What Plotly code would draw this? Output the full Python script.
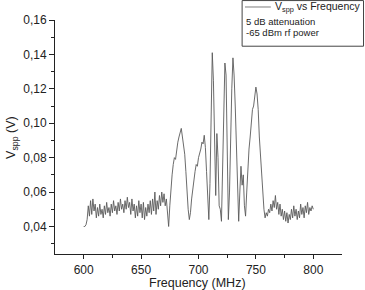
import plotly.graph_objects as go

freq_mhz = list(range(600, 801))

vspp = [
    # 600-609
    0.040, 0.040, 0.041, 0.044, 0.052, 0.046, 0.055, 0.047, 0.056, 0.049,
    # 610-619
    0.053, 0.045, 0.051, 0.046, 0.053, 0.047, 0.050, 0.045, 0.052, 0.047,
    # 620-629
    0.054, 0.048, 0.051, 0.046, 0.053, 0.048, 0.055, 0.049, 0.052, 0.047,
    # 630-639
    0.054, 0.049, 0.056, 0.050, 0.053, 0.048, 0.055, 0.050, 0.057, 0.051,
    # 640-649
    0.054, 0.047, 0.056, 0.049, 0.053, 0.045, 0.052, 0.046, 0.055, 0.048,
    # 650-659
    0.053, 0.045, 0.054, 0.044, 0.051, 0.046, 0.053, 0.048, 0.055, 0.047,
    # 660-669
    0.056, 0.049, 0.060, 0.047, 0.055, 0.050, 0.058, 0.052, 0.060, 0.054,
    # 670-679
    0.059, 0.052, 0.056, 0.047, 0.040, 0.052, 0.063, 0.070, 0.076, 0.080,
    # 680-689
    0.079, 0.086, 0.089, 0.092, 0.094, 0.097, 0.092, 0.088, 0.082, 0.072,
    # 690-699
    0.060, 0.050, 0.044, 0.048, 0.056, 0.062, 0.067, 0.072, 0.076, 0.075,
    # 700-709
    0.080, 0.082, 0.085, 0.089, 0.088, 0.093, 0.086, 0.072, 0.058, 0.044,
    # 710-719
    0.065, 0.100, 0.141, 0.125, 0.090, 0.058, 0.094, 0.080, 0.052, 0.050,
    # 720-729
    0.043, 0.070, 0.110, 0.135, 0.128, 0.090, 0.044, 0.060, 0.100, 0.120,
    # 730-739
    0.138, 0.128, 0.110, 0.082, 0.058, 0.043, 0.060, 0.075, 0.064, 0.070,
    # 740-749
    0.052, 0.046, 0.060, 0.075, 0.085, 0.092, 0.102, 0.108, 0.110, 0.116,
    # 750-759
    0.121, 0.117, 0.108, 0.092, 0.080, 0.070, 0.060, 0.050, 0.045, 0.048,
    # 760-769
    0.046, 0.050, 0.048, 0.053, 0.049, 0.055, 0.051, 0.058, 0.050, 0.054,
    # 770-779
    0.047, 0.053, 0.046, 0.050, 0.044, 0.049, 0.043, 0.048, 0.042, 0.047,
    # 780-789
    0.044, 0.050, 0.045, 0.052, 0.046, 0.050, 0.044, 0.049, 0.045, 0.053,
    # 790-800
    0.047, 0.051, 0.045, 0.052, 0.048, 0.054, 0.047, 0.051, 0.049, 0.052,
    0.050,
]

legend_lines = ["V<sub>spp</sub> vs Frequency", "5 dB attenuation", "-65 dBm rf power"]
x_title = "Frequency (MHz)"
y_title = "V<sub>spp</sub> (V)"

FONT = "Arial, 'Liberation Sans', sans-serif"
AX = "#222222"

fig = go.Figure()
fig.add_trace(go.Scatter(
    x=freq_mhz, y=vspp, mode="lines",
    line=dict(color="#5a5a5a", width=0.9),
    showlegend=False, hoverinfo="skip",
))

common = dict(
    showgrid=False, zeroline=False, showline=True, linecolor=AX, linewidth=1,
    ticks="outside", tickwidth=1, tickcolor=AX,
    tickfont=dict(family=FONT, size=12, color="#222222"),
    mirror=False, automargin=False,
)

fig.update_layout(
    width=365, height=290,
    margin=dict(l=55, r=23, t=20, b=36),
    paper_bgcolor="white", plot_bgcolor="white",
    separators=",.",
    font=dict(family=FONT, color="#222222"),
    xaxis=dict(
        range=[575, 825], tickvals=[600, 650, 700, 750, 800],
        ticklen=4, ticklabelstandoff=1,
        minor=dict(tickvals=[625, 675, 725, 775], ticks="outside", ticklen=3, tickcolor=AX),
        **common,
    ),
    yaxis=dict(
        range=[0.024, 0.16], tickvals=[0.04, 0.06, 0.08, 0.10, 0.12, 0.14, 0.16],
        tickformat=".2f", ticklen=5,
        minor=dict(tickvals=[0.03, 0.05, 0.07, 0.09, 0.11, 0.13, 0.15], ticks="outside",
                   ticklen=3, tickcolor=AX),
        **common,
    ),
)

# axis titles
fig.add_annotation(text=x_title, xref="paper", yref="paper", x=0.498, y=-0.124,
                   xanchor="center", yanchor="middle", showarrow=False,
                   font=dict(family=FONT, size=12.5, color="#222222"))
fig.add_annotation(text=y_title, xref="paper", yref="paper", x=-0.150, y=0.50,
                   xanchor="center", yanchor="middle", showarrow=False, textangle=-90,
                   font=dict(family=FONT, size=12.5, color="#222222"))

# legend box
fig.add_shape(type="rect", xref="paper", yref="paper",
              x0=0.652, x1=1.075, y0=0.888, y1=1.083,
              line=dict(color="#444444", width=1), fillcolor="white", layer="above")
fig.add_shape(type="line", xref="paper", yref="paper",
              x0=0.662, x1=0.752, y0=1.0556, y1=1.0556,
              line=dict(color="#5a5a5a", width=0.8))
ys = [1.0556, 0.9957, 0.948]
xs = [0.761, 0.658, 0.658]
sizes = [10.5, 9.5, 9.5]
for t, xx, yy, sz in zip(legend_lines, xs, ys, sizes):
    fig.add_annotation(text=t, xref="paper", yref="paper", x=xx, y=yy,
                       xanchor="left", yanchor="middle", showarrow=False,
                       font=dict(family=FONT, size=sz, color="#222222"))

fig.write_html("out.html")
